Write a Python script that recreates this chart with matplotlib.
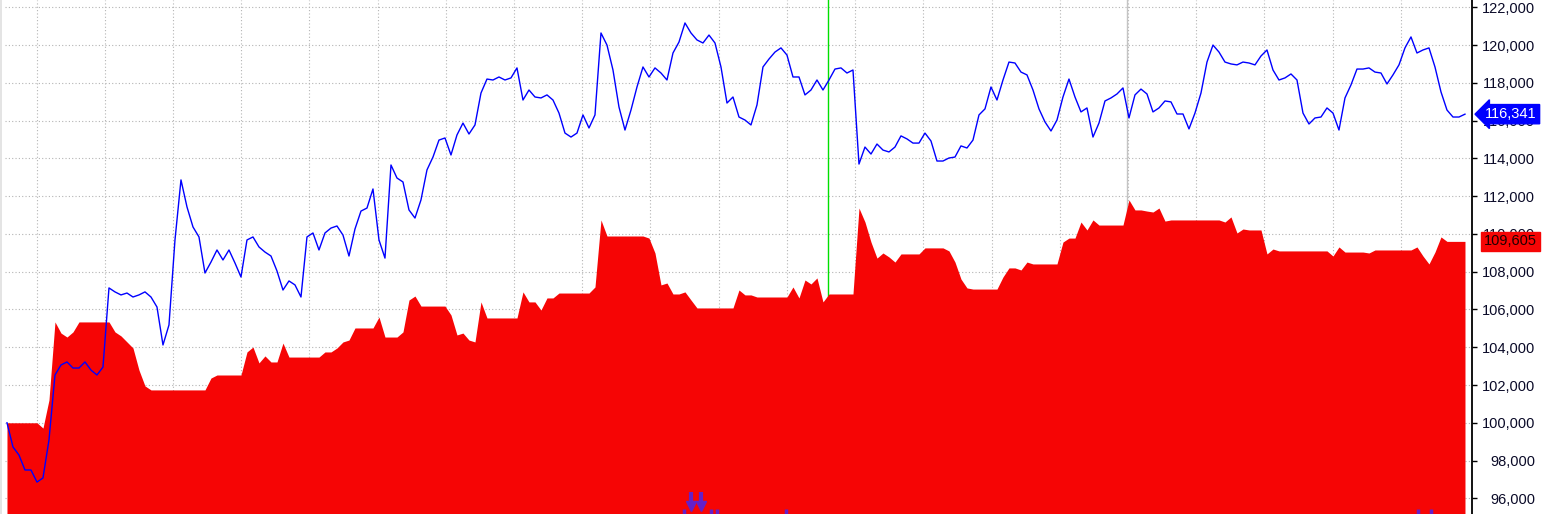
import numpy as np
import matplotlib.pyplot as plt
import matplotlib.transforms as mtransforms

# --- Equity (blue line), one reading every ~6 bars ---
equity = [
    100000, 98720, 98290, 97500, 97500, 96860, 97080, 99090, 102530, 103060,
    103220, 102900, 102900, 103220, 102790, 102530, 102950, 107140, 106930, 106770,
    106870, 106660, 106770, 106930, 106660, 106130, 104120, 105180, 109680, 112860,
    111430, 110370, 109840, 107930, 108510, 109150, 108620, 109150, 108460, 107720,
    109680, 109840, 109310, 109040, 108830, 108040, 107030, 107510, 107300, 106660,
    109840, 110050, 109150, 110050, 110310, 110420, 109940, 108830, 110260, 111210,
    111370, 112380, 109680, 108720, 113650, 112960, 112750, 111270, 110840, 111800,
    113390, 114070, 114970, 115080, 114180, 115240, 115870, 115290, 115770, 117460,
    118200, 118150, 118310, 118150, 118260, 118790, 117090, 117620, 117250, 117200,
    117360, 117090, 116400, 115340, 115130, 115340, 116300, 115610, 116300, 120640,
    120000, 118680, 116720, 115500, 116560, 117780, 118840, 118310, 118790, 118520,
    118150, 119580, 120160, 121170, 120640, 120270, 120110, 120530, 120110, 118840,
    116930, 117250, 116190, 116030, 115770, 116830, 118840, 119260, 119630, 119850,
    119470, 118310, 118310, 117360, 117620, 118150, 117620, 118150, 118730, 118790,
    118520, 118680, 113700, 114600, 114230, 114760, 114440, 114340, 114600, 115190,
    115030, 114810, 114810, 115340, 114920, 113860, 113860, 114020, 114070, 114660,
    114550, 114970, 116300, 116620, 117780, 117090, 118150, 119100, 119050, 118570,
    118420, 117620, 116620, 115930, 115450, 116030, 117250, 118200, 117250, 116460,
    116670, 115130, 115870, 117040, 117200, 117410, 117730, 116140, 117360, 117670,
    117410, 116460, 116670, 117040, 116990, 116350, 116350, 115560, 116400, 117460,
    119100, 120000, 119630, 119100, 119000, 118950, 119100, 119050, 118950, 119420,
    119740, 118680, 118150, 118260, 118470, 118150, 116400, 115820, 116140, 116190,
    116670, 116400, 115500, 117200, 117890, 118730, 118730, 118790, 118570, 118520,
    117940, 118420, 118950, 119850, 120430, 119580, 119740, 119850, 118840, 117520,
    116560, 116190, 116190, 116341,
]

# --- Red area, same bars ---
red_area = [
    100000, 100000, 100000, 100000, 100000, 100000, 99720, 101210, 105340, 104750,
    104540, 104810, 105340, 105340, 105340, 105340, 105340, 105340, 104810, 104600,
    104280, 103960, 102790, 101950, 101740, 101740, 101740, 101740, 101740, 101740,
    101740, 101740, 101740, 101740, 102370, 102530, 102530, 102530, 102530, 102530,
    103750, 104010, 103170, 103540, 103220, 103220, 104220, 103480, 103480, 103480,
    103480, 103480, 103480, 103750, 103750, 103960, 104280, 104380, 105020, 105020,
    105020, 105020, 105600, 104540, 104540, 104540, 104810, 106500, 106710, 106180,
    106180, 106180, 106180, 106180, 105710, 104650, 104750, 104380, 104280, 106400,
    105550, 105550, 105550, 105550, 105550, 105550, 106930, 106400, 106400, 105970,
    106610, 106610, 106870, 106870, 106870, 106870, 106870, 106870, 107190, 110740,
    109890, 109890, 109890, 109890, 109890, 109890, 109890, 109780, 108990, 107300,
    107400, 106820, 106820, 106930, 106500, 106080, 106080, 106080, 106080, 106080,
    106080, 106080, 107030, 106770, 106770, 106660, 106660, 106660, 106660, 106660,
    106660, 107190, 106610, 107560, 107350, 107670, 106400, 106820, 106820, 106820,
    106820, 106820, 111370, 110630, 109570, 108720, 108990, 108780, 108510, 108940,
    108940, 108940, 108940, 109260, 109260, 109260, 109260, 109100, 108510, 107610,
    107140, 107080, 107080, 107080, 107080, 107080, 107720, 108200, 108200, 108090,
    108510, 108410, 108410, 108410, 108410, 108410, 109570, 109780, 109780, 110630,
    110210, 110740, 110470, 110470, 110470, 110470, 110470, 111800, 111270, 111270,
    111210, 111160, 111370, 110680, 110740, 110740, 110740, 110740, 110740, 110740,
    110740, 110740, 110740, 110630, 110900, 110050, 110260, 110210, 110210, 110210,
    108940, 109200, 109100, 109100, 109100, 109100, 109100, 109100, 109100, 109100,
    109100, 108830, 109310, 109040, 109040, 109040, 109040, 108990, 109150, 109150,
    109150, 109150, 109150, 109150, 109150, 109310, 108830, 108410, 109040, 109840,
    109605, 109605, 109605, 109605,
]

last_equity = 116341
last_red = 109605

# vertical markers (bar positions)
green_bar = 136.8
gray_bar = 186.7
arrow_bars = [114.0, 115.7]
exit_bars = [112.8, 117.3, 118.4, 129.9, 235.2, 237.4]

y_ticks = np.arange(96000, 122001, 2000)
grid_bars = 4.95 + 11.367 * np.arange(21)   # date grid, every ~11 bars

W, H = 1542, 514
fig = plt.figure(figsize=(W / 100, H / 100), dpi=100)
ax = fig.add_axes([5 / W, 0, 1467 / W, 1])
ax.set_xlim(-0.33, 244.17)
y_lo, y_hi = 95170, 122386
ax.set_ylim(y_lo, y_hi)

# --- grid ---
ax.set_axisbelow(True)
ax.set_xticks(grid_bars)
ax.set_yticks(y_ticks)
ax.grid(True, color='#b4b4b4', ls=(0, (1, 2)), lw=0.8)
ax.tick_params(axis='x', length=0, labelbottom=False)

# --- vertical lines (behind the red area) ---
ax.axvline(gray_bar, color='#c4c4c4', lw=1.0, zorder=1)
ax.axvline(green_bar, color='#00e000', lw=1.0, zorder=1)

# --- series ---
bars = np.arange(len(equity))
red_bars = np.arange(len(red_area))
ax.fill_between(red_bars, red_area, y_lo, color='#f60505', lw=0, zorder=2)
ax.plot(bars, equity, color='#0000ff', lw=1.0, zorder=3)

# --- trade markers at the bottom ---
purple = '#6420c8'
xt = ax.get_xaxis_transform()
for b in arrow_bars:
    ax.plot([b, b], [0.022, 0.042], color=purple, lw=3, transform=xt, zorder=4,
            solid_capstyle='butt')
    ax.plot(b, 0.016, marker='v', ms=7, color=purple, transform=xt, zorder=4)
for b in exit_bars:
    ax.plot([b, b], [0.0, 0.01], color=purple, lw=2.5, transform=xt, zorder=4,
            solid_capstyle='butt')

# --- right axis ---
for s in ['top', 'left', 'bottom']:
    ax.spines[s].set_visible(False)
ax.spines['right'].set_color('black')
ax.spines['right'].set_linewidth(1.3)
ax.yaxis.tick_right()
ax.tick_params(axis='y', direction='out', length=3.5, width=1, color='black',
               pad=42, labelsize=10.5, labelcolor='#0a0a28')
ax.set_yticklabels([f'{v:,}' for v in y_ticks], family='Liberation Sans')
for lab in ax.get_yticklabels():
    lab.set_horizontalalignment('right')

# --- last value tags ---
trans = mtransforms.blended_transform_factory(fig.transFigure, ax.transData)
ax.text(1537 / W, last_equity, f'{last_equity:,}', transform=trans, ha='right',
        va='center', color='white', fontsize=10.5, family='Liberation Sans',
        bbox=dict(boxstyle='larrow,pad=0.18', fc='#0000ff', ec='#0000ff'),
        zorder=5, clip_on=False)
ax.text(1537 / W, last_red, f'{last_red:,}', transform=trans, ha='right',
        va='center', color='#200000', fontsize=10.5, family='Liberation Sans',
        bbox=dict(boxstyle='square,pad=0.18', fc='#f60505', ec='#f60505'),
        zorder=5, clip_on=False)

# faint left border
fig.add_artist(plt.Rectangle((0, 0), 2 / W, 1, transform=fig.transFigure,
                             color='#e4e4e4', lw=0))

fig.savefig('out.png', dpi=100)
